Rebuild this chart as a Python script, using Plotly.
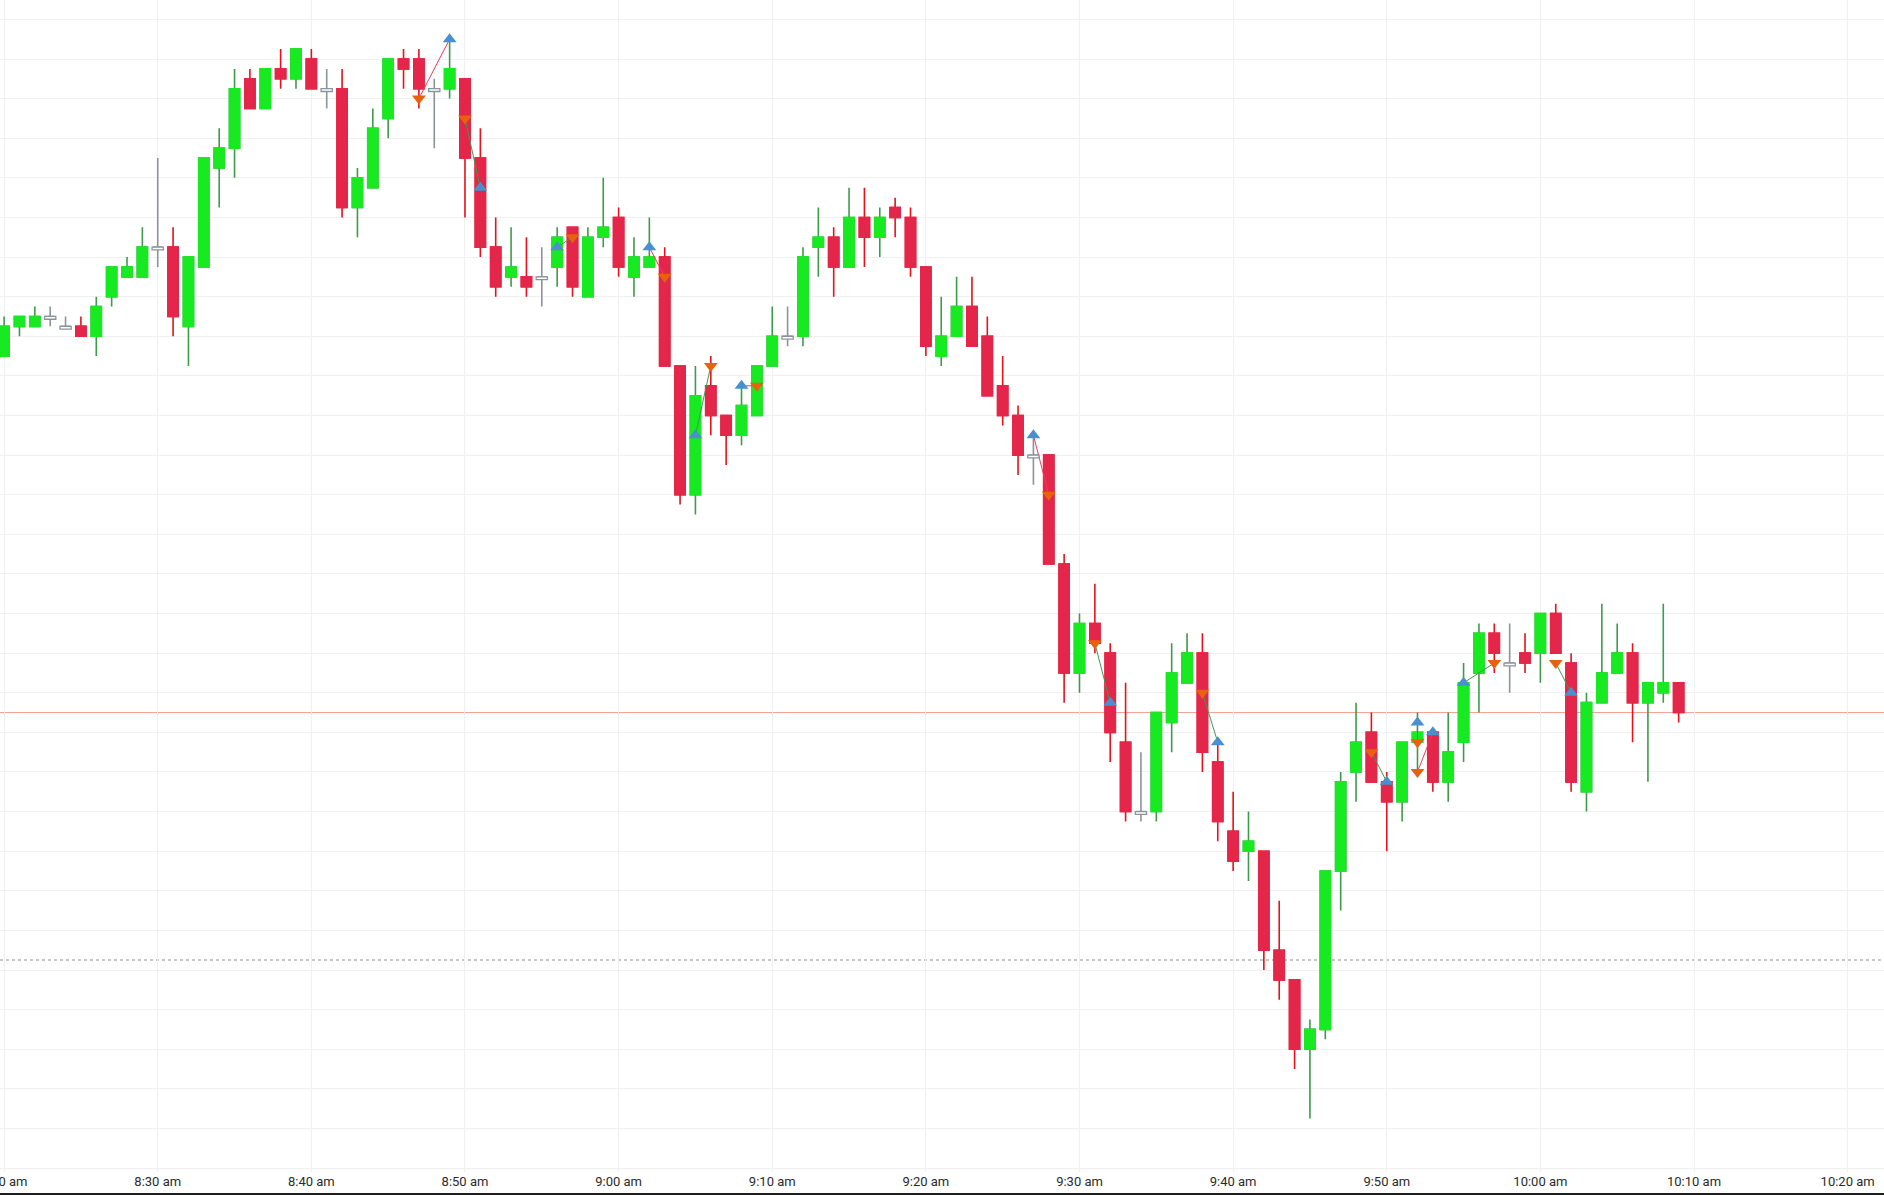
"""
One-minute candles with trade markers, drawn in Plotly.
"""

import pandas as pd
import plotly.graph_objects as go

SESSION_DAY = "2024-03-15"
FIRST_BAR = "08:20"

# one-minute bars, 08:20 .. 10:09
opens = [
    4521.50, 4522.25, 4522.25, 4522.50, 4522.25, 4522.25, 4522.00, 4523.00, 4523.50, 4523.50,
    4524.25, 4524.25, 4522.25, 4523.75, 4526.25, 4526.75, 4528.50, 4527.75, 4528.75, 4528.50,
    4529.00, 4528.25, 4528.25, 4525.25, 4525.75, 4527.50, 4529.00, 4529.00, 4528.25, 4528.25,
    4528.50, 4526.50, 4524.25, 4523.50, 4523.50, 4523.50, 4523.75, 4524.75, 4523.00, 4524.50,
    4525.00, 4523.50, 4523.75, 4524.00, 4521.25, 4518.00, 4520.75, 4520.00, 4519.50, 4520.00,
    4521.25, 4522.00, 4522.00, 4524.25, 4524.50, 4523.75, 4525.00, 4524.50, 4525.25, 4525.00,
    4523.75, 4521.50, 4522.00, 4522.75, 4522.00, 4520.75, 4520.00, 4519.00, 4519.00, 4516.25,
    4513.50, 4514.75, 4514.00, 4511.75, 4510.00, 4510.00, 4512.25, 4513.25, 4514.00, 4511.25,
    4509.50, 4509.00, 4509.00, 4506.50, 4505.75, 4504.00, 4504.50, 4508.50, 4511.00, 4512.00,
    4510.75, 4510.25, 4511.75, 4512.00, 4510.75, 4511.75, 4513.50, 4514.50, 4513.75, 4514.00,
    4514.00, 4515.00, 4513.75, 4510.50, 4512.75, 4513.50, 4514.00, 4512.75, 4513.00, 4513.25,
]
highs = [
    4522.50, 4522.50, 4522.75, 4522.75, 4522.50, 4522.50, 4523.00, 4523.75, 4524.00, 4524.75,
    4526.50, 4524.75, 4524.00, 4526.50, 4527.25, 4528.75, 4528.75, 4528.75, 4529.25, 4529.25,
    4529.25, 4528.75, 4528.75, 4526.25, 4527.75, 4529.00, 4529.25, 4529.25, 4528.50, 4529.50,
    4528.50, 4527.25, 4525.00, 4524.75, 4524.50, 4524.25, 4524.75, 4524.75, 4524.75, 4526.00,
    4525.25, 4524.50, 4525.00, 4524.25, 4521.25, 4521.25, 4521.50, 4520.00, 4520.75, 4521.25,
    4522.75, 4522.75, 4524.25, 4525.25, 4524.75, 4525.75, 4525.75, 4525.25, 4525.50, 4525.25,
    4523.75, 4523.00, 4523.50, 4523.50, 4522.50, 4521.50, 4520.25, 4519.50, 4519.00, 4516.50,
    4515.00, 4515.75, 4514.25, 4513.25, 4511.50, 4512.50, 4514.25, 4514.50, 4514.50, 4511.75,
    4510.50, 4510.00, 4509.00, 4507.75, 4505.75, 4504.75, 4508.50, 4511.00, 4512.75, 4512.50,
    4511.00, 4511.75, 4512.50, 4512.00, 4512.50, 4513.75, 4514.75, 4514.75, 4514.75, 4514.50,
    4515.00, 4515.25, 4514.00, 4513.00, 4515.25, 4514.75, 4514.25, 4513.25, 4515.25, 4513.25,
]
lows = [
    4521.50, 4522.00, 4522.25, 4522.25, 4522.25, 4522.00, 4521.50, 4522.75, 4523.50, 4523.50,
    4523.75, 4522.00, 4521.25, 4523.75, 4525.25, 4526.00, 4527.75, 4527.75, 4528.25, 4528.25,
    4528.25, 4527.75, 4525.00, 4524.50, 4525.75, 4527.00, 4528.25, 4527.75, 4526.75, 4528.00,
    4525.00, 4524.00, 4523.00, 4523.25, 4523.00, 4522.75, 4523.25, 4523.00, 4523.00, 4524.25,
    4523.50, 4523.00, 4523.75, 4521.25, 4517.75, 4517.50, 4519.50, 4518.75, 4519.25, 4520.00,
    4521.25, 4521.75, 4521.75, 4523.50, 4523.00, 4523.75, 4523.75, 4524.00, 4524.50, 4523.50,
    4521.50, 4521.25, 4522.00, 4521.75, 4520.50, 4519.75, 4518.50, 4518.25, 4516.25, 4512.75,
    4513.00, 4514.00, 4511.25, 4509.75, 4509.75, 4509.75, 4511.50, 4513.25, 4511.00, 4509.25,
    4508.50, 4508.25, 4506.00, 4505.25, 4503.50, 4502.25, 4504.25, 4507.50, 4510.25, 4510.75,
    4509.00, 4509.75, 4511.00, 4510.50, 4510.25, 4511.25, 4512.50, 4513.50, 4513.00, 4513.50,
    4513.25, 4514.00, 4510.50, 4510.00, 4512.75, 4513.50, 4511.75, 4510.75, 4512.75, 4512.25,
]
closes = [
    4522.25, 4522.50, 4522.50, 4522.50, 4522.25, 4522.00, 4522.75, 4523.75, 4523.75, 4524.25,
    4524.25, 4522.50, 4524.00, 4526.50, 4526.75, 4528.25, 4527.75, 4528.75, 4528.50, 4529.25,
    4528.25, 4528.25, 4525.25, 4526.00, 4527.25, 4529.00, 4528.75, 4528.25, 4528.25, 4528.75,
    4526.50, 4524.25, 4523.25, 4523.75, 4523.25, 4523.50, 4524.50, 4523.25, 4524.50, 4524.75,
    4523.75, 4524.00, 4524.00, 4521.25, 4518.00, 4520.50, 4520.00, 4519.50, 4520.25, 4521.25,
    4522.00, 4522.00, 4524.00, 4524.50, 4523.75, 4525.00, 4524.50, 4525.00, 4525.00, 4523.75,
    4521.75, 4522.00, 4522.75, 4521.75, 4520.50, 4520.00, 4519.00, 4519.00, 4516.25, 4513.50,
    4514.75, 4514.25, 4512.00, 4510.00, 4510.00, 4512.50, 4513.50, 4514.00, 4511.50, 4509.75,
    4508.75, 4509.25, 4506.50, 4505.75, 4504.00, 4504.50, 4508.50, 4510.75, 4511.75, 4510.75,
    4510.25, 4511.75, 4512.00, 4510.75, 4511.50, 4513.25, 4514.50, 4514.00, 4513.75, 4513.75,
    4515.00, 4514.00, 4510.75, 4512.75, 4513.50, 4514.00, 4512.75, 4513.25, 4513.25, 4512.50,
]

# round-trip trades
trade_side = ["short", "short", "long", "long", "long", "long", "long",
              "short", "short", "short", "long", "short", "long", "short"]
trade_entry_time = ["08:47", "08:50", "08:56", "09:02", "09:05", "09:08", "09:27",
                    "09:31", "09:38", "09:49", "09:52", "09:52", "09:55", "10:01"]
trade_entry_price = [4528.00, 4527.50, 4524.25, 4524.25, 4519.50, 4520.75, 4519.50,
                     4514.25, 4513.00, 4511.50, 4512.25, 4511.00, 4513.25, 4513.75]
trade_exit_time = ["08:49", "08:51", "08:57", "09:03", "09:06", "09:09", "09:28",
                   "09:32", "09:39", "09:50", "09:52", "09:53", "09:57", "10:02"]
trade_exit_price = [4529.50, 4525.75, 4524.50, 4523.50, 4521.25, 4520.75, 4518.00,
                    4512.75, 4511.75, 4510.75, 4511.75, 4512.00, 4513.75, 4513.00]

last_price = 4512.50
marked_level = 4506.25

tick_times = ["08:20", "08:30", "08:40", "08:50", "09:00", "09:10", "09:20",
              "09:30", "09:40", "09:50", "10:00", "10:10", "10:20"]
tick_labels = ["8:20 am", "8:30 am", "8:40 am", "8:50 am", "9:00 am", "9:10 am", "9:20 am",
               "9:30 am", "9:40 am", "9:50 am", "10:00 am", "10:10 am", "10:20 am"]


def stamp(t):
    return f"{SESSION_DAY} {t}"


bars = pd.DataFrame(
    {"open": opens, "high": highs, "low": lows, "close": closes},
    index=pd.date_range(stamp(FIRST_BAR), periods=len(opens), freq="1min"),
)

DOJI_GRAY = "#8d939d"
groups = [
    (bars[bars.close > bars.open], "#18ea22", "#3d9c4b"),
    (bars[bars.close < bars.open], "#e3264a", "#e8121a"),
    (bars[bars.close == bars.open], None, DOJI_GRAY),
]

fig = go.Figure()

for df, body_color, wick_color in groups:
    # wick layer (high/low); dojis only get this one
    fill = wick_color if body_color else "white"
    style = dict(line=dict(color=wick_color, width=1.6), fillcolor=fill)
    fig.add_trace(go.Candlestick(
        x=df.index, open=df.open, high=df.high, low=df.low, close=df.close,
        increasing=style, decreasing=style, whiskerwidth=0,
        hoverinfo="skip", showlegend=False,
    ))
    if body_color is None:
        continue
    # body layer drawn over it
    top = df[["open", "close"]].max(axis=1)
    bottom = df[["open", "close"]].min(axis=1)
    style = dict(line=dict(color=body_color, width=1.6), fillcolor=body_color)
    fig.add_trace(go.Candlestick(
        x=df.index, open=df.open, high=top, low=bottom, close=df.close,
        increasing=style, decreasing=style, whiskerwidth=0,
        hoverinfo="skip", showlegend=False,
    ))

# dojis get a thin hollow body, like the source chart
half_bar = pd.Timedelta(seconds=22)
for t, row in bars[bars.close == bars.open].iterrows():
    fig.add_shape(type="rect", x0=t - half_bar, x1=t + half_bar,
                  y0=row.close - 0.07, y1=row.close,
                  line=dict(color=DOJI_GRAY, width=1.3), fillcolor="white", layer="above")

# trade connectors
win_x, win_y, loss_x, loss_y = [], [], [], []
buy_x, buy_y, sell_x, sell_y = [], [], [], []
for side, t0, p0, t1, p1 in zip(trade_side, trade_entry_time, trade_entry_price,
                                trade_exit_time, trade_exit_price):
    pnl = (p1 - p0) if side == "long" else (p0 - p1)
    xs, ys = (win_x, win_y) if pnl > 0 else (loss_x, loss_y)
    xs += [stamp(t0), stamp(t1), None]
    ys += [p0, p1, None]
    if side == "long":
        buy_x.append(stamp(t0)); buy_y.append(p0)
        sell_x.append(stamp(t1)); sell_y.append(p1)
    else:
        sell_x.append(stamp(t0)); sell_y.append(p0)
        buy_x.append(stamp(t1)); buy_y.append(p1)

fig.add_trace(go.Scatter(x=win_x, y=win_y, mode="lines",
                         line=dict(color="#3d9c4b", width=1), hoverinfo="skip"))
fig.add_trace(go.Scatter(x=loss_x, y=loss_y, mode="lines",
                         line=dict(color="#ee3b5a", width=1), hoverinfo="skip"))
fig.add_trace(go.Scatter(x=buy_x, y=buy_y, mode="markers",
                         marker=dict(symbol="triangle-up", size=12, color="#4a8fcf"),
                         hoverinfo="skip"))
fig.add_trace(go.Scatter(x=sell_x, y=sell_y, mode="markers",
                         marker=dict(symbol="triangle-down", size=12, color="#e8620e"),
                         hoverinfo="skip"))

# price lines
fig.add_hline(y=last_price, line=dict(color="#f4a08e", width=1), layer="below")
fig.add_hline(y=marked_level, line=dict(color="#b4b4b4", width=1.5, dash="dot"), layer="below")
# bottom border under the time scale
fig.add_shape(type="line", xref="paper", yref="paper", x0=0, x1=1, y0=-0.0188, y1=-0.0188,
              line=dict(color="#1e1e1e", width=2))

grid = "#f0f0f0"
fig.update_layout(
    width=1884, height=1195,
    margin=dict(l=0, r=0, t=0, b=23, pad=0),
    paper_bgcolor="white", plot_bgcolor="white",
    showlegend=False,
    boxgap=0.34, boxgroupgap=0,
    xaxis=dict(
        range=[stamp("08:19:44"), stamp("10:22:22")],
        rangeslider=dict(visible=False),
        automargin=False,
        tickvals=[stamp(t) for t in tick_times], ticktext=tick_labels,
        ticklabeloverflow="allow",
        ticks="", showline=False, zeroline=False,
        showgrid=True, gridcolor=grid, gridwidth=1,
        tickfont=dict(family="Roboto", size=13, color="#2b2b2b"),
    ),
    yaxis=dict(
        range=[4500.90, 4530.49],
        automargin=False,
        tick0=4500, dtick=1,
        showticklabels=False, ticks="", zeroline=False, showline=False,
        showgrid=True, gridcolor=grid, gridwidth=1,
    ),
)

# the page body has a default 8px margin; drop it so the chart sits flush
fig.write_html("out.html", config={"displayModeBar": False},
               post_script="document.body.style.margin = '0';")
